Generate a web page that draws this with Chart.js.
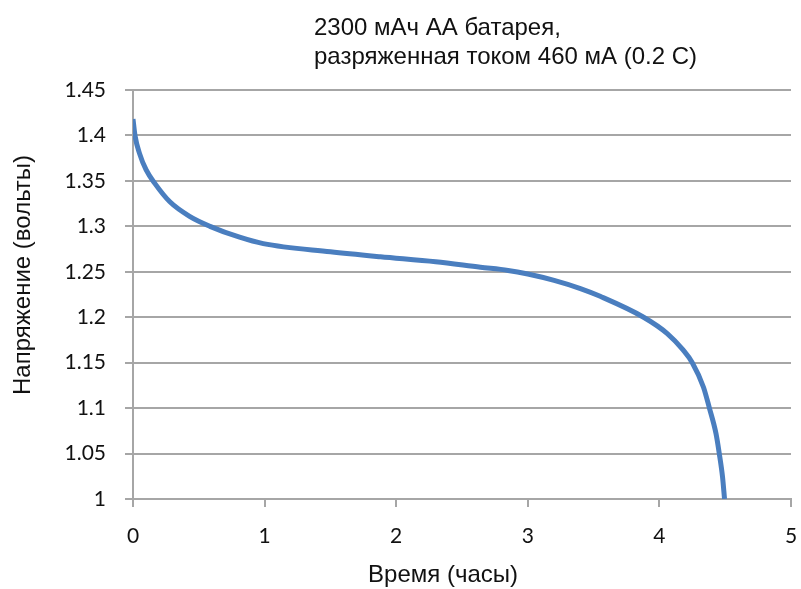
<!DOCTYPE html>
<html>
<head>
<meta charset="utf-8">
<script src="https://cdn.jsdelivr.net/npm/chart.js@4/dist/chart.umd.min.js"></script>
<style>
  html, body { margin: 0; padding: 0; background: #ffffff; }
  #wrap { width: 801px; height: 589px; position: relative; }
</style>
</head>
<body>
<div id="wrap"><canvas id="dischargeChart" width="801" height="589"></canvas></div>
<script>
// Discharge curve of a 2300 mAh AA cell at 460 mA
const titleLines = ['2300 мАч АА батарея,', 'разряженная током 460 мА (0.2 С)'];
const xAxisTitle = 'Время (часы)';
const yAxisTitle = 'Напряжение (вольты)';

const timeHours = [0, 0.015, 0.05, 0.1, 0.167, 0.28, 0.43, 0.585, 0.81, 0.99, 1.5, 1.88, 2.3, 2.64, 2.85, 3.0, 3.2, 3.4, 3.55, 3.88, 4.06, 4.18, 4.25, 4.335, 4.38, 4.43, 4.455, 4.48, 4.495];
const voltage   = [1.418, 1.4, 1.38, 1.362, 1.347, 1.327, 1.311, 1.3, 1.288, 1.281, 1.272, 1.2665, 1.261, 1.255, 1.2515, 1.2475, 1.2405, 1.2315, 1.223, 1.2, 1.182, 1.164, 1.15, 1.123, 1.1, 1.072, 1.05, 1.024, 1.0];

const yMin = 1, yMax = 1.45, yStep = 0.05;
const xMin = 0, xMax = 5, xStep = 1;

const points = timeHours.map((t, i) => ({ x: t, y: voltage[i] }));

const textFont = '24px "Liberation Sans", Arial, sans-serif';

// heading and axis captions are drawn by hand so they can sit where Excel put them
const captionsPlugin = {
  id: 'captions',
  afterDraw(chart) {
    const ctx = chart.ctx;
    ctx.save();
    ctx.font = textFont;
    ctx.fillStyle = '#111';
    ctx.textBaseline = 'middle';

    ctx.textAlign = 'left';
    titleLines.forEach((line, i) => ctx.fillText(line, 314, 28 + i * 29));

    ctx.textAlign = 'center';
    ctx.fillText(xAxisTitle, 443, 575);

    ctx.translate(23, 275);
    ctx.rotate(-Math.PI / 2);
    ctx.fillText(yAxisTitle, 0, 0);
    ctx.restore();
  }
};

const gridColor = '#a6a6a6';
const tickFont = { family: 'Lato, Calibri, sans-serif', size: 21 };

new Chart(document.getElementById('dischargeChart'), {
  type: 'scatter',
  data: {
    datasets: [{
      data: points,
      showLine: true,
      borderColor: '#4a7ebf',
      borderWidth: 5,
      pointRadius: 0,
      cubicInterpolationMode: 'monotone',
      fill: false
    }]
  },
  options: {
    responsive: false,
    animation: false,
    layout: { padding: { top: 90, right: 10, left: 0, bottom: 0 } },
    plugins: {
      legend: { display: false },
      tooltip: { enabled: false }
    },
    scales: {
      x: {
        type: 'linear',
        min: xMin, max: xMax,
        ticks: { stepSize: xStep, color: '#111', font: tickFont, padding: 17 },
        grid: { drawOnChartArea: false, drawTicks: true, tickLength: 8, color: gridColor, lineWidth: 2 },
        border: { color: gridColor, width: 2 },
        afterFit(scale) {
          // plot box is fixed; labels at the ends may overhang it
          scale.height = 90;
          scale.paddingLeft = 0;
          scale.paddingRight = 0;
        }
      },
      y: {
        type: 'linear',
        min: yMin, max: yMax,
        ticks: {
          stepSize: yStep, color: '#111', font: tickFont, padding: 19,
          callback: v => String(Number(v.toFixed(2)))
        },
        grid: { drawOnChartArea: true, drawTicks: true, tickLength: 8, color: gridColor, lineWidth: 2 },
        border: { color: gridColor, width: 2 },
        afterFit(scale) {
          scale.width = 133;
          scale.paddingTop = 0;
          scale.paddingBottom = 0;
        }
      }
    }
  },
  plugins: [captionsPlugin]
});
</script>
</body>
</html>
